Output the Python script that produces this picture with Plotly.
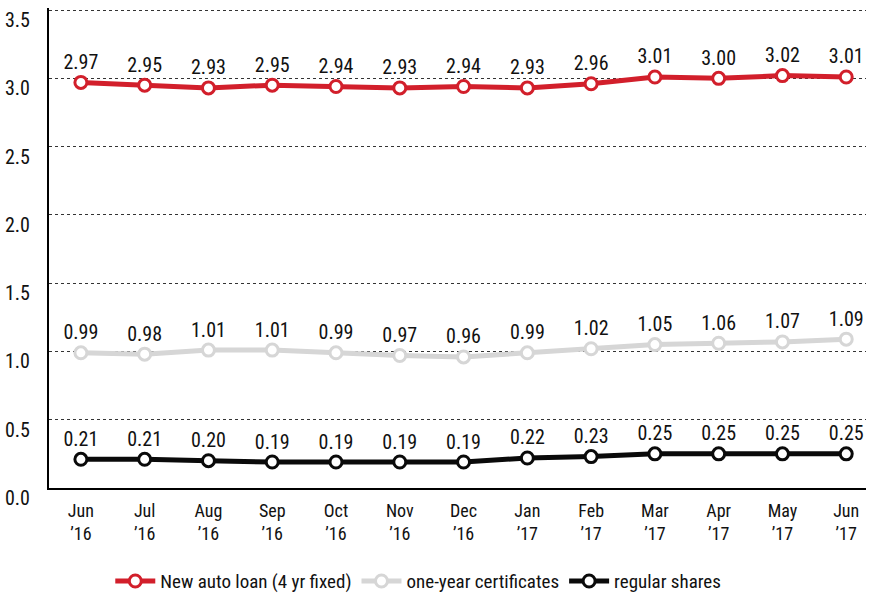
import plotly.graph_objects as go

months = ["Jun", "Jul", "Aug", "Sep", "Oct", "Nov", "Dec", "Jan", "Feb", "Mar", "Apr", "May", "Jun"]
years = ["’16", "’16", "’16", "’16", "’16", "’16", "’16", "’17", "’17", "’17", "’17", "’17", "’17"]
auto_loan = [2.97, 2.95, 2.93, 2.95, 2.94, 2.93, 2.94, 2.93, 2.96, 3.01, 3.00, 3.02, 3.01]
certificates = [0.99, 0.98, 1.01, 1.01, 0.99, 0.97, 0.96, 0.99, 1.02, 1.05, 1.06, 1.07, 1.09]
shares = [0.21, 0.21, 0.20, 0.19, 0.19, 0.19, 0.19, 0.22, 0.23, 0.25, 0.25, 0.25, 0.25]
y_ticks = [0.0, 0.5, 1.0, 1.5, 2.0, 2.5, 3.0, 3.5]

FONT = "Roboto Condensed, DejaVu Sans Condensed, sans-serif"
TXT = "#111111"

series = [
    ("New auto loan (4 yr fixed)", auto_loan, "#d21f2b"),
    ("one-year certificates", certificates, "#d6d6d6"),
    ("regular shares", shares, "#0a0a0a"),
]

x_labels = [f"{m}<br>{y}" for m, y in zip(months, years)]

fig = go.Figure()
x_idx = list(range(len(months)))
for name, vals, color in series:
    fig.add_trace(go.Scatter(
        x=x_idx, y=vals, name=name, mode="lines+markers+text",
        line=dict(color=color, width=5),
        marker=dict(size=12, color="white", line=dict(color=color, width=3)),
        text=[f"{v:.2f}" for v in vals], textposition="top center",
        textfont=dict(family=FONT, size=20, color=TXT),
        cliponaxis=False,
    ))

fig.update_layout(
    width=871, height=596,
    margin=dict(l=49, r=5, t=8, b=108, autoexpand=False),
    plot_bgcolor="white", paper_bgcolor="white",
    font=dict(family=FONT, color=TXT),
    showlegend=True,
    legend=dict(orientation="h", x=0.452, xanchor="center", y=-0.194, yanchor="middle",
                font=dict(family=FONT, size=19, color=TXT), itemwidth=40),
    xaxis=dict(
        tickmode="array", tickvals=x_idx, ticktext=x_labels,
        range=[-0.5, 12.31], showgrid=False, zeroline=False,
        showline=True, linecolor="black", linewidth=2, ticks="",
        tickfont=dict(family=FONT, size=18, color=TXT),
        ticklabelstandoff=5, automargin=False,
    ),
    yaxis=dict(
        range=[0, 3.515], tickmode="array", tickvals=y_ticks,
        ticktext=[f"{t:.1f}" for t in y_ticks],
        showgrid=True, gridcolor="#333333", griddash="dot", gridwidth=1,
        zeroline=False, showline=True, linecolor="black", linewidth=2, ticks="",
        tickfont=dict(family=FONT, size=20, color=TXT),
        ticklabelshift=10, ticklabelstandoff=13,
        automargin=False,
    ),
)

fig.write_html("out.html", config={"displayModeBar": False},
               post_script="document.body.style.margin='0';")
